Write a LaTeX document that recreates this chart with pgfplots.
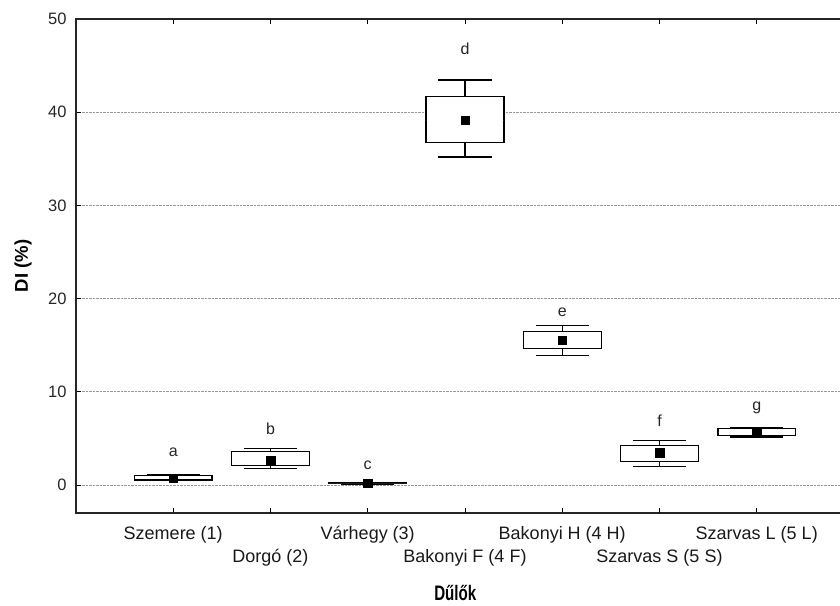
\documentclass[border=0pt]{standalone}
\usepackage{pgfplots}
\pgfplotsset{compat=1.18}
\usepgfplotslibrary{statistics}
\usepackage{fontspec}
\setmainfont{Liberation Sans}
\newfontfamily\xlabfont{Liberation Sans}[FakeStretch=0.72]
\begin{document}
\begin{tikzpicture}[x=1pt,y=1pt]
\path[use as bounding box] (-76,-92) rectangle (764,513);
\begin{axis}[
  at={(0,0)}, anchor=south west,
  scale only axis, width=778pt, height=494pt,
  xmin=0, xmax=8, ymin=-3, ymax=50,
  xtick={1,3,5,7},
  xticklabels={Szemere (1),V\'arhegy (3),Bakonyi H (4 H),Szarvas L (5 L)},
  extra x ticks={2,4,6},
  extra x tick labels={Dorg\'o (2),Bakonyi F (4 F),Szarvas S (5 S)},
  extra x tick style={xticklabel style={yshift=-23pt}},
  xticklabel style={font=\fontsize{18pt}{21pt}\selectfont, yshift=-10pt, text=black!90},
  ytick={0,10,20,30,40,50},
  yticklabel style={font=\fontsize{16.5pt}{19pt}\selectfont, xshift=-6pt, text=black!85},
  /pgf/number format/assume math mode=true,
  tick align=inside,
  major tick length=5pt,
  tick style={black, line width=1pt},
  axis line style={draw=black!85, line width=1.3pt},
  ymajorgrids,
  grid style={densely dotted, black!40, line width=0.8pt},
  ylabel={\bfseries DI (\%)},
  ylabel style={font=\fontsize{18.5pt}{21pt}\selectfont, at={(axis description cs:-0.068,0.5)}, anchor=center},
  xlabel={\xlabfont\bfseries D\H{u}l\H{o}k},
  xlabel style={font=\fontsize{21pt}{23pt}\selectfont, at={(axis description cs:0.4875,-0.177)}, anchor=base},
  boxplot/draw direction=y,
  boxplot/box extend=0.8,
  boxplot/whisker extend=0.55,
  boxplot/every median/.style={draw=none},
  clip=false,
]
\addplot[boxplot prepared={draw position=1, lower whisker=0.48, lower quartile=0.54, median=0.72, upper quartile=1.0, upper whisker=1.15}, draw=black, fill=white, line width=1.3pt] coordinates {};
\addplot[boxplot prepared={draw position=2, lower whisker=1.79, lower quartile=2.08, median=2.68, upper quartile=3.58, upper whisker=3.95}, draw=black, fill=white, line width=1.3pt] coordinates {};
\addplot[boxplot prepared={draw position=3, lower whisker=0.12, lower quartile=0.14, median=0.18, upper quartile=0.22, upper whisker=0.24}, draw=black, fill=white, line width=1.3pt] coordinates {};
\addplot[boxplot prepared={draw position=4, lower whisker=35.2, lower quartile=36.74, median=39.14, upper quartile=41.69, upper whisker=43.44}, draw=black, fill=white, line width=1.3pt] coordinates {};
\addplot[boxplot prepared={draw position=5, lower whisker=13.9, lower quartile=14.65, median=15.55, upper quartile=16.5, upper whisker=17.1}, draw=black, fill=white, line width=1.3pt] coordinates {};
\addplot[boxplot prepared={draw position=6, lower whisker=2.02, lower quartile=2.55, median=3.45, upper quartile=4.27, upper whisker=4.77}, draw=black, fill=white, line width=1.3pt] coordinates {};
\addplot[boxplot prepared={draw position=7, lower whisker=5.17, lower quartile=5.34, median=5.66, upper quartile=6.03, upper whisker=6.2}, draw=black, fill=white, line width=1.3pt] coordinates {};
% means
\addplot[only marks, mark=square*, mark size=4.3pt, black] coordinates {
 (1,0.72) (2,2.68) (3,0.18) (4,39.14) (5,15.55) (6,3.45) (7,5.66)};
% group letters
\addplot[only marks, mark=none, nodes near coords, point meta=explicit symbolic,
  every node near coord/.style={anchor=base, font=\fontsize{16pt}{19pt}\selectfont, text=black!85, inner sep=0pt}]
  table[meta=lab] {
x y lab
1 3.11 a
2 5.47 b
3 1.72 c
4 46.2 d
5 18.1 e
6 6.26 f
7 8.05 g
};
\end{axis}
\end{tikzpicture}
\end{document}
